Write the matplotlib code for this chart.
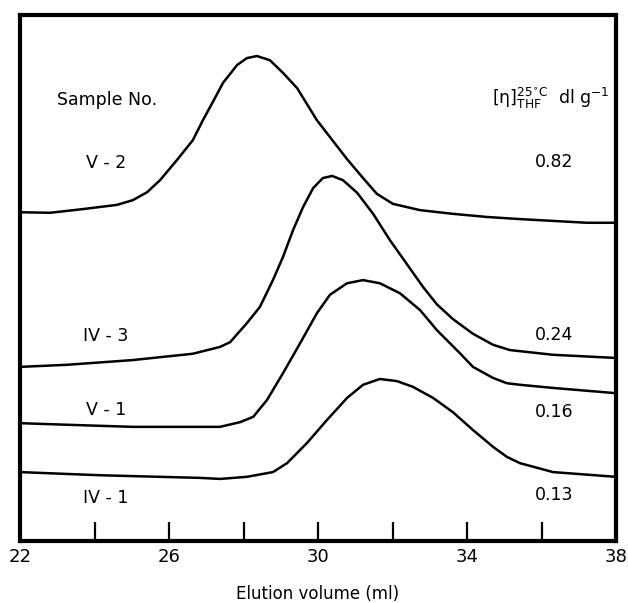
import matplotlib
matplotlib.use("Agg")
import matplotlib.pyplot as plt

# Elution volume (ml) and relative detector response (arbitrary units, 0-100 frame height)
v2_x = [22.0, 22.81, 23.69, 24.60, 25.03, 25.41, 25.76, 26.21, 26.64, 26.91, 27.18, 27.45, 27.83, 28.09,
        28.36, 28.71, 29.06, 29.44, 29.97, 30.78, 31.21, 31.58, 32.01, 32.74, 33.62, 34.54, 35.42, 37.22, 38.0]
v2_y = [62.5, 62.4, 63.1, 63.9, 64.8, 66.3, 68.6, 72.4, 76.2, 80.0, 83.5, 87.1, 90.5, 91.8,
        92.2, 91.4, 89.0, 86.1, 80.0, 72.6, 69.0, 66.0, 64.1, 62.9, 62.2, 61.6, 61.2, 60.5, 60.5]

iv3_x = [22.0, 23.26, 25.03, 26.64, 27.37, 27.64, 28.09, 28.44, 28.79, 29.06, 29.33, 29.60, 29.87, 30.13,
         30.38, 30.67, 31.05, 31.48, 31.93, 32.39, 32.82, 33.19, 33.62, 34.16, 34.70, 35.15, 36.31, 38.0]
iv3_y = [33.1, 33.5, 34.4, 35.6, 36.9, 37.8, 41.4, 44.5, 49.6, 54.0, 59.1, 63.5, 67.1, 69.0,
         69.4, 68.6, 66.2, 62.2, 57.2, 52.6, 48.3, 45.0, 42.2, 39.4, 37.3, 36.3, 35.4, 34.8]

v1_x = [22.0, 23.26, 25.03, 26.38, 27.37, 27.91, 28.26, 28.63, 29.06, 29.52, 29.97, 30.32, 30.78, 31.21,
        31.66, 32.20, 32.74, 33.19, 33.81, 34.16, 34.70, 35.07, 35.42, 36.31, 38.0]
v1_y = [22.4, 22.1, 21.7, 21.7, 21.7, 22.6, 23.6, 26.8, 31.9, 37.6, 43.3, 46.8, 49.0, 49.6,
        49.0, 47.1, 43.9, 40.1, 35.7, 33.1, 31.0, 30.0, 29.7, 29.1, 28.1]

iv1_x = [22.0, 24.15, 26.83, 27.37, 28.09, 28.79, 29.17, 29.70, 30.24, 30.78, 31.21, 31.66, 32.12, 32.55,
         33.09, 33.62, 34.16, 34.70, 35.07, 35.42, 36.31, 38.0]
iv1_y = [13.1, 12.5, 12.0, 11.8, 12.2, 13.1, 14.8, 18.6, 23.0, 27.2, 29.7, 30.8, 30.4, 29.3,
         27.2, 24.5, 21.1, 17.9, 16.0, 14.8, 13.1, 12.2]

samples = ["V - 2", "IV - 3", "V - 1", "IV - 1"]
viscosities = ["0.82", "0.24", "0.16", "0.13"]
label_y = [71.9, 39.0, 24.9, 8.2]
visc_y = [72.1, 39.2, 24.5, 8.7]

major_ticks = [22, 26, 30, 34, 38]
minor_ticks = [24, 28, 32, 36]

plt.rcParams['font.family'] = ['DejaVu Sans']

fig = plt.figure(figsize=(6.28, 6.03), dpi=100)
ax = fig.add_axes([20/628, 62/603, 596/628, 526/603])

for xs, ys in [(v2_x, v2_y), (iv3_x, iv3_y), (v1_x, v1_y), (iv1_x, iv1_y)]:
    ax.plot(xs, ys, color='black', lw=1.8, solid_joinstyle='round', solid_capstyle='round')

ax.set_xlim(22, 38)
ax.set_ylim(0, 100)
ax.set_yticks([])
ax.set_xticks(major_ticks)
ax.set_xticks(minor_ticks, minor=True)
ax.set_xticklabels([str(t) for t in major_ticks])
ax.tick_params(axis='x', which='both', direction='in', length=14, width=1.6, labelsize=13, pad=5)
for s in ax.spines.values():
    s.set_linewidth(3)

ax.set_xlabel("Elution volume (ml)", fontsize=12, labelpad=14)

ax.text(24.34, 83.8, "Sample No.", fontsize=12.5, ha='center', va='center')
for name, y in zip(samples, label_y):
    ax.text(24.3, y, name, fontsize=12.5, ha='center', va='center')

ax.text(36.25, 84.2, r'$\mathrm{[\eta]}_{\mathrm{THF}}^{\mathrm{25^{\circ}C}}$  dl g$^{-1}$',
        fontsize=12.5, ha='center', va='center')
for val, y in zip(viscosities, visc_y):
    ax.text(36.35, y, val, fontsize=12.5, ha='center', va='center')

fig.savefig("out.png", dpi=100)
